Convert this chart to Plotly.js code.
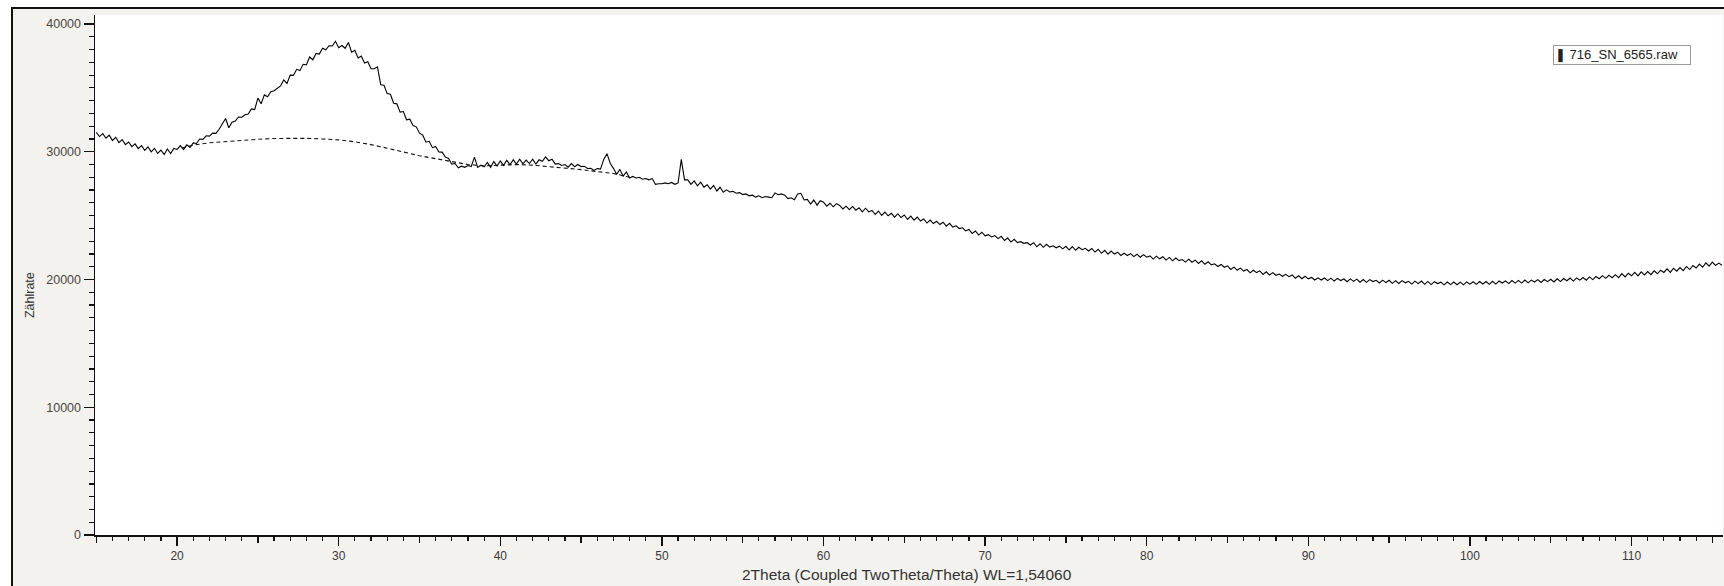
<!DOCTYPE html>
<html>
<head>
<meta charset="utf-8">
<script src="https://cdn.plot.ly/plotly-3.0.1.min.js"></script>
<style>
  html, body { margin: 0; padding: 0; background: #ffffff; width: 1724px; height: 586px; overflow: hidden; }
  #frame { position: absolute; left: 11px; top: 7px; width: 1711px; height: 577px;
           border-left: 2px solid #111; border-top: 2px solid #111; background: #f4f2ef; }
  #chart { width: 1711px; height: 577px; }
</style>
</head>
<body>
<div id="frame"><div id="chart"></div></div>
<script>
// ---- Data ----
const SERIES_NAME = "716_SN_6565.raw";
const X_TITLE = "2Theta (Coupled TwoTheta/Theta) WL=1,54060";
const Y_TITLE = "Zählrate";

// Scan grid: 2Theta start and step (degrees)
const TWO_THETA_START = 15.0;
const TWO_THETA_STEP = 0.2;

// Counts, one row per degree (15.0, 15.2, 15.4, 15.6, 15.8, ...)
const COUNTS = [
  31520, 31190, 31420, 31060, 31300,
  30880, 31130, 30720, 30960, 30560,
  30760, 30400, 30620, 30250, 30480,
  30100, 30380, 29990, 30270, 29870,
  30130, 29780, 30220, 29860, 30260,
  30180, 30480, 30170, 30540, 30330,
  30690, 30650, 31000, 30970, 31250,
  31220, 31460, 31440, 31760, 32150,
  32600, 31880, 32320, 32400, 32720,
  32700, 32900, 32950, 33350, 33300,
  34200, 33750, 34450, 34300, 34700,
  34780, 35000, 35150, 35620, 35350,
  36000, 35980, 36450, 36350, 36850,
  36800, 37420, 37200, 37700, 37650,
  38100, 37980, 38300, 38280, 38650,
  38150, 38320, 38100, 38550, 37800,
  37950, 37350, 37500, 36950, 37050,
  36500, 36500, 36650, 35250, 35200,
  34550, 34500, 33800, 33750, 33100,
  33150, 32500, 32550, 32050, 31950,
  31450, 31300, 30750, 30820, 30320,
  30420, 29980, 29970, 29580, 29480,
  29030, 29080, 28740, 28870, 28780,
  28920, 28840, 29580, 28780, 28950,
  28820, 29170, 28780, 29230, 28880,
  29280, 28930, 29330, 28980, 29370,
  29030, 29420, 29060, 29350, 29080,
  29420, 29030, 29370, 29260, 29600,
  29300, 29420, 29030, 29070, 28930,
  29000, 28790, 29070, 28830, 29000,
  28840, 28860, 28690, 28710, 28540,
  28680, 28640, 29400, 29850, 29100,
  28700, 28240, 28620, 28090, 28420,
  27940, 28070, 27950, 28000, 27850,
  27900, 27800, 27900, 27450, 27500,
  27500, 27560, 27500, 27600, 27450,
  27560, 29400, 27800, 27800, 27450,
  27720, 27330, 27620, 27230, 27420,
  27080, 27370, 26930, 27220, 26830,
  27020, 26850, 26900, 26750, 26800,
  26650, 26700, 26550, 26600, 26450,
  26550, 26400, 26500, 26450, 26400,
  26780, 26640, 26700, 26600, 26330,
  26400, 26250, 26700, 26750, 26230,
  26270, 25910, 26220, 25820, 26170,
  26050, 25740, 25970, 25690, 25940,
  25800, 25520, 25740, 25470, 25720,
  25430, 25620, 25300, 25580, 25290,
  25400, 25090, 25360, 25010, 25280,
  24990, 25180, 24880, 25150, 24850,
  25050, 24700, 24960, 24650, 24880,
  24580, 24740, 24420, 24650, 24380,
  24560, 24300, 24480, 24180, 24400,
  24100, 24200, 23990, 24050, 23800,
  23920, 23600, 23800, 23480, 23700,
  23420, 23510, 23330, 23440, 23200,
  23380, 23050, 23240, 22930, 23150,
  22890, 22960, 22830, 22880, 22700,
  22880, 22560, 22800, 22520, 22760,
  22540, 22640, 22480, 22610, 22400,
  22600, 22310, 22570, 22290, 22520,
  22330, 22440, 22230, 22430, 22150,
  22370, 22050, 22290, 21980, 22230,
  21990, 22140, 21880, 22060, 21880,
  22030, 21790, 21980, 21740, 21950,
  21750, 21850, 21600, 21830, 21620,
  21780, 21520, 21730, 21460, 21680,
  21480, 21560, 21360, 21590, 21350,
  21520, 21260, 21460, 21190, 21390,
  21150, 21230, 21020, 21180, 20960,
  21070, 20790, 20970, 20720, 20890,
  20660, 20780, 20520, 20720, 20540,
  20680, 20400, 20600, 20350, 20540,
  20330, 20430, 20250, 20400, 20220,
  20360, 20100, 20290, 20060, 20250,
  20050, 20160, 19960, 20130, 19960,
  20120, 19910, 20110, 19880, 20090,
  19920, 20040, 19830, 20050, 19850,
  20030, 19790, 20000, 19780, 19990,
  19840, 19940, 19730, 19950, 19760,
  19940, 19700, 19910, 19690, 19910,
  19740, 19860, 19640, 19870, 19680,
  19880, 19620, 19850, 19600, 19830,
  19680, 19790, 19580, 19800, 19600,
  19800, 19590, 19790, 19580, 19810,
  19640, 19820, 19620, 19840, 19650,
  19840, 19620, 19860, 19640, 19880,
  19720, 19890, 19680, 19920, 19720,
  19930, 19720, 19960, 19740, 19950,
  19800, 19990, 19770, 20000, 19830,
  20020, 19810, 20050, 19840, 20080,
  19900, 20110, 19880, 20120, 19950,
  20160, 19950, 20200, 19990, 20230,
  20060, 20300, 20090, 20330, 20140,
  20380, 20150, 20460, 20200, 20490,
  20290, 20560, 20280, 20600, 20360,
  20620, 20380, 20680, 20450, 20730,
  20550, 20840, 20560, 20880, 20650,
  20930, 20690, 21020, 20780, 21100,
  20900, 21200, 20960, 21300, 21050,
  21360, 21100, 21280, 21120
];

// Fitted amorphous background (dashed)
const BG_X = [20.3, 21, 22, 23, 24, 25, 26, 27, 28, 29, 30, 31, 32, 33, 34, 35, 36, 37, 38, 39, 40, 41, 42, 43, 44, 45, 46, 47, 48];
const BG_Y = [30300, 30520, 30700, 30800, 30900, 30980, 31040, 31060, 31050, 31000, 30930, 30780, 30560, 30280, 29960, 29690, 29460, 29220, 29000, 28900, 28950, 29000, 28950, 28850, 28750, 28600, 28450, 28300, 28000];

// Axis ticks
const X_MAJOR_VALS = [20, 30, 40, 50, 60, 70, 80, 90, 100, 110];
const X_MAJOR_TEXT = ["20", "30", "40", "50", "60", "70", "80", "90", "100", "110"];
const X_MID_VALS = [15, 25, 35, 45, 55, 65, 75, 85, 95, 105, 115];
const Y_TICK_VALS = [0, 10000, 20000, 30000, 40000];
const Y_TICK_TEXT = ["0", "10000", "20000", "30000", "40000"];

const X_RANGE = [14.92, 115.66];
const Y_RANGE = [0, 40705];

// ---- Build ----
const twoTheta = COUNTS.map((_, i) => +(TWO_THETA_START + i * TWO_THETA_STEP).toFixed(2));

const FONT = "Liberation Sans, Arial, sans-serif";

const traces = [
  {
    x: BG_X, y: BG_Y, type: "scatter", mode: "lines",
    xaxis: "x", yaxis: "y",
    line: { color: "#111", width: 1.1, dash: "4px,3px" },
    hoverinfo: "skip", showlegend: false
  },
  {
    x: twoTheta, y: COUNTS, type: "scatter", mode: "lines",
    name: SERIES_NAME, xaxis: "x2", yaxis: "y",
    line: { color: "#000", width: 1.1 },
    showlegend: false
  }
];

const layout = {
  width: 1711, height: 577,
  margin: { l: 82, r: 1, t: 6, b: 51 },
  paper_bgcolor: "#f4f2ef",
  plot_bgcolor: "#ffffff",
  font: { family: FONT, size: 11, color: "#333" },
  showlegend: false,
  xaxis: {
    range: X_RANGE, showgrid: false, zeroline: false,
    showline: true, linecolor: "#111", linewidth: 1.5,
    tickmode: "array", tickvals: X_MID_VALS, ticktext: X_MID_VALS.map(() => ""),
    ticks: "outside", ticklen: 6, tickwidth: 1.3, tickcolor: "#111",
    minor: { dtick: 1, tick0: 15, ticks: "outside", ticklen: 4, tickwidth: 1.2, tickcolor: "#111", showgrid: false }
  },
  xaxis2: {
    range: X_RANGE, overlaying: "x", side: "bottom", anchor: "y",
    showgrid: false, zeroline: false, showline: false,
    tickmode: "array", tickvals: X_MAJOR_VALS, ticktext: X_MAJOR_TEXT,
    ticks: "outside", ticklen: 10, tickwidth: 1.3, tickcolor: "#111",
    tickfont: { family: FONT, size: 12, color: "#3a3a3a" }
  },
  yaxis: {
    range: Y_RANGE, showgrid: false, zeroline: false,
    showline: true, linecolor: "#111", linewidth: 1.5,
    tickmode: "array", tickvals: Y_TICK_VALS, ticktext: Y_TICK_TEXT,
    ticks: "outside", ticklen: 10, tickwidth: 1.3, tickcolor: "#111",
    tickfont: { family: FONT, size: 12.5, color: "#4a4540" },
    minor: { dtick: 1000, ticks: "outside", ticklen: 5, tickwidth: 1.2, tickcolor: "#111", showgrid: false }
  },
  annotations: [
    {
      text: Y_TITLE, textangle: -90, xref: "paper", yref: "paper",
      x: -0.0399, y: 0.4615, xanchor: "center", yanchor: "middle",
      showarrow: false, font: { family: FONT, size: 12.5, color: "#333" }
    },
    {
      text: X_TITLE, xref: "paper", yref: "paper",
      x: 0.4988, y: -0.0769, xanchor: "center", yanchor: "middle",
      showarrow: false, font: { family: FONT, size: 15.5, color: "#333" }
    },
    {
      text: "❚ " + SERIES_NAME, xref: "paper", yref: "paper",
      x: 0.938, y: 0.923, xanchor: "center", yanchor: "middle",
      showarrow: false, align: "left", width: 134,
      bgcolor: "#ffffff", bordercolor: "#9a9a9a", borderwidth: 1, borderpad: 1,
      font: { family: FONT, size: 13, color: "#222" }
    }
  ]
};

Plotly.newPlot("chart", traces, layout, { staticPlot: true, displayModeBar: false });
</script>
</body>
</html>
